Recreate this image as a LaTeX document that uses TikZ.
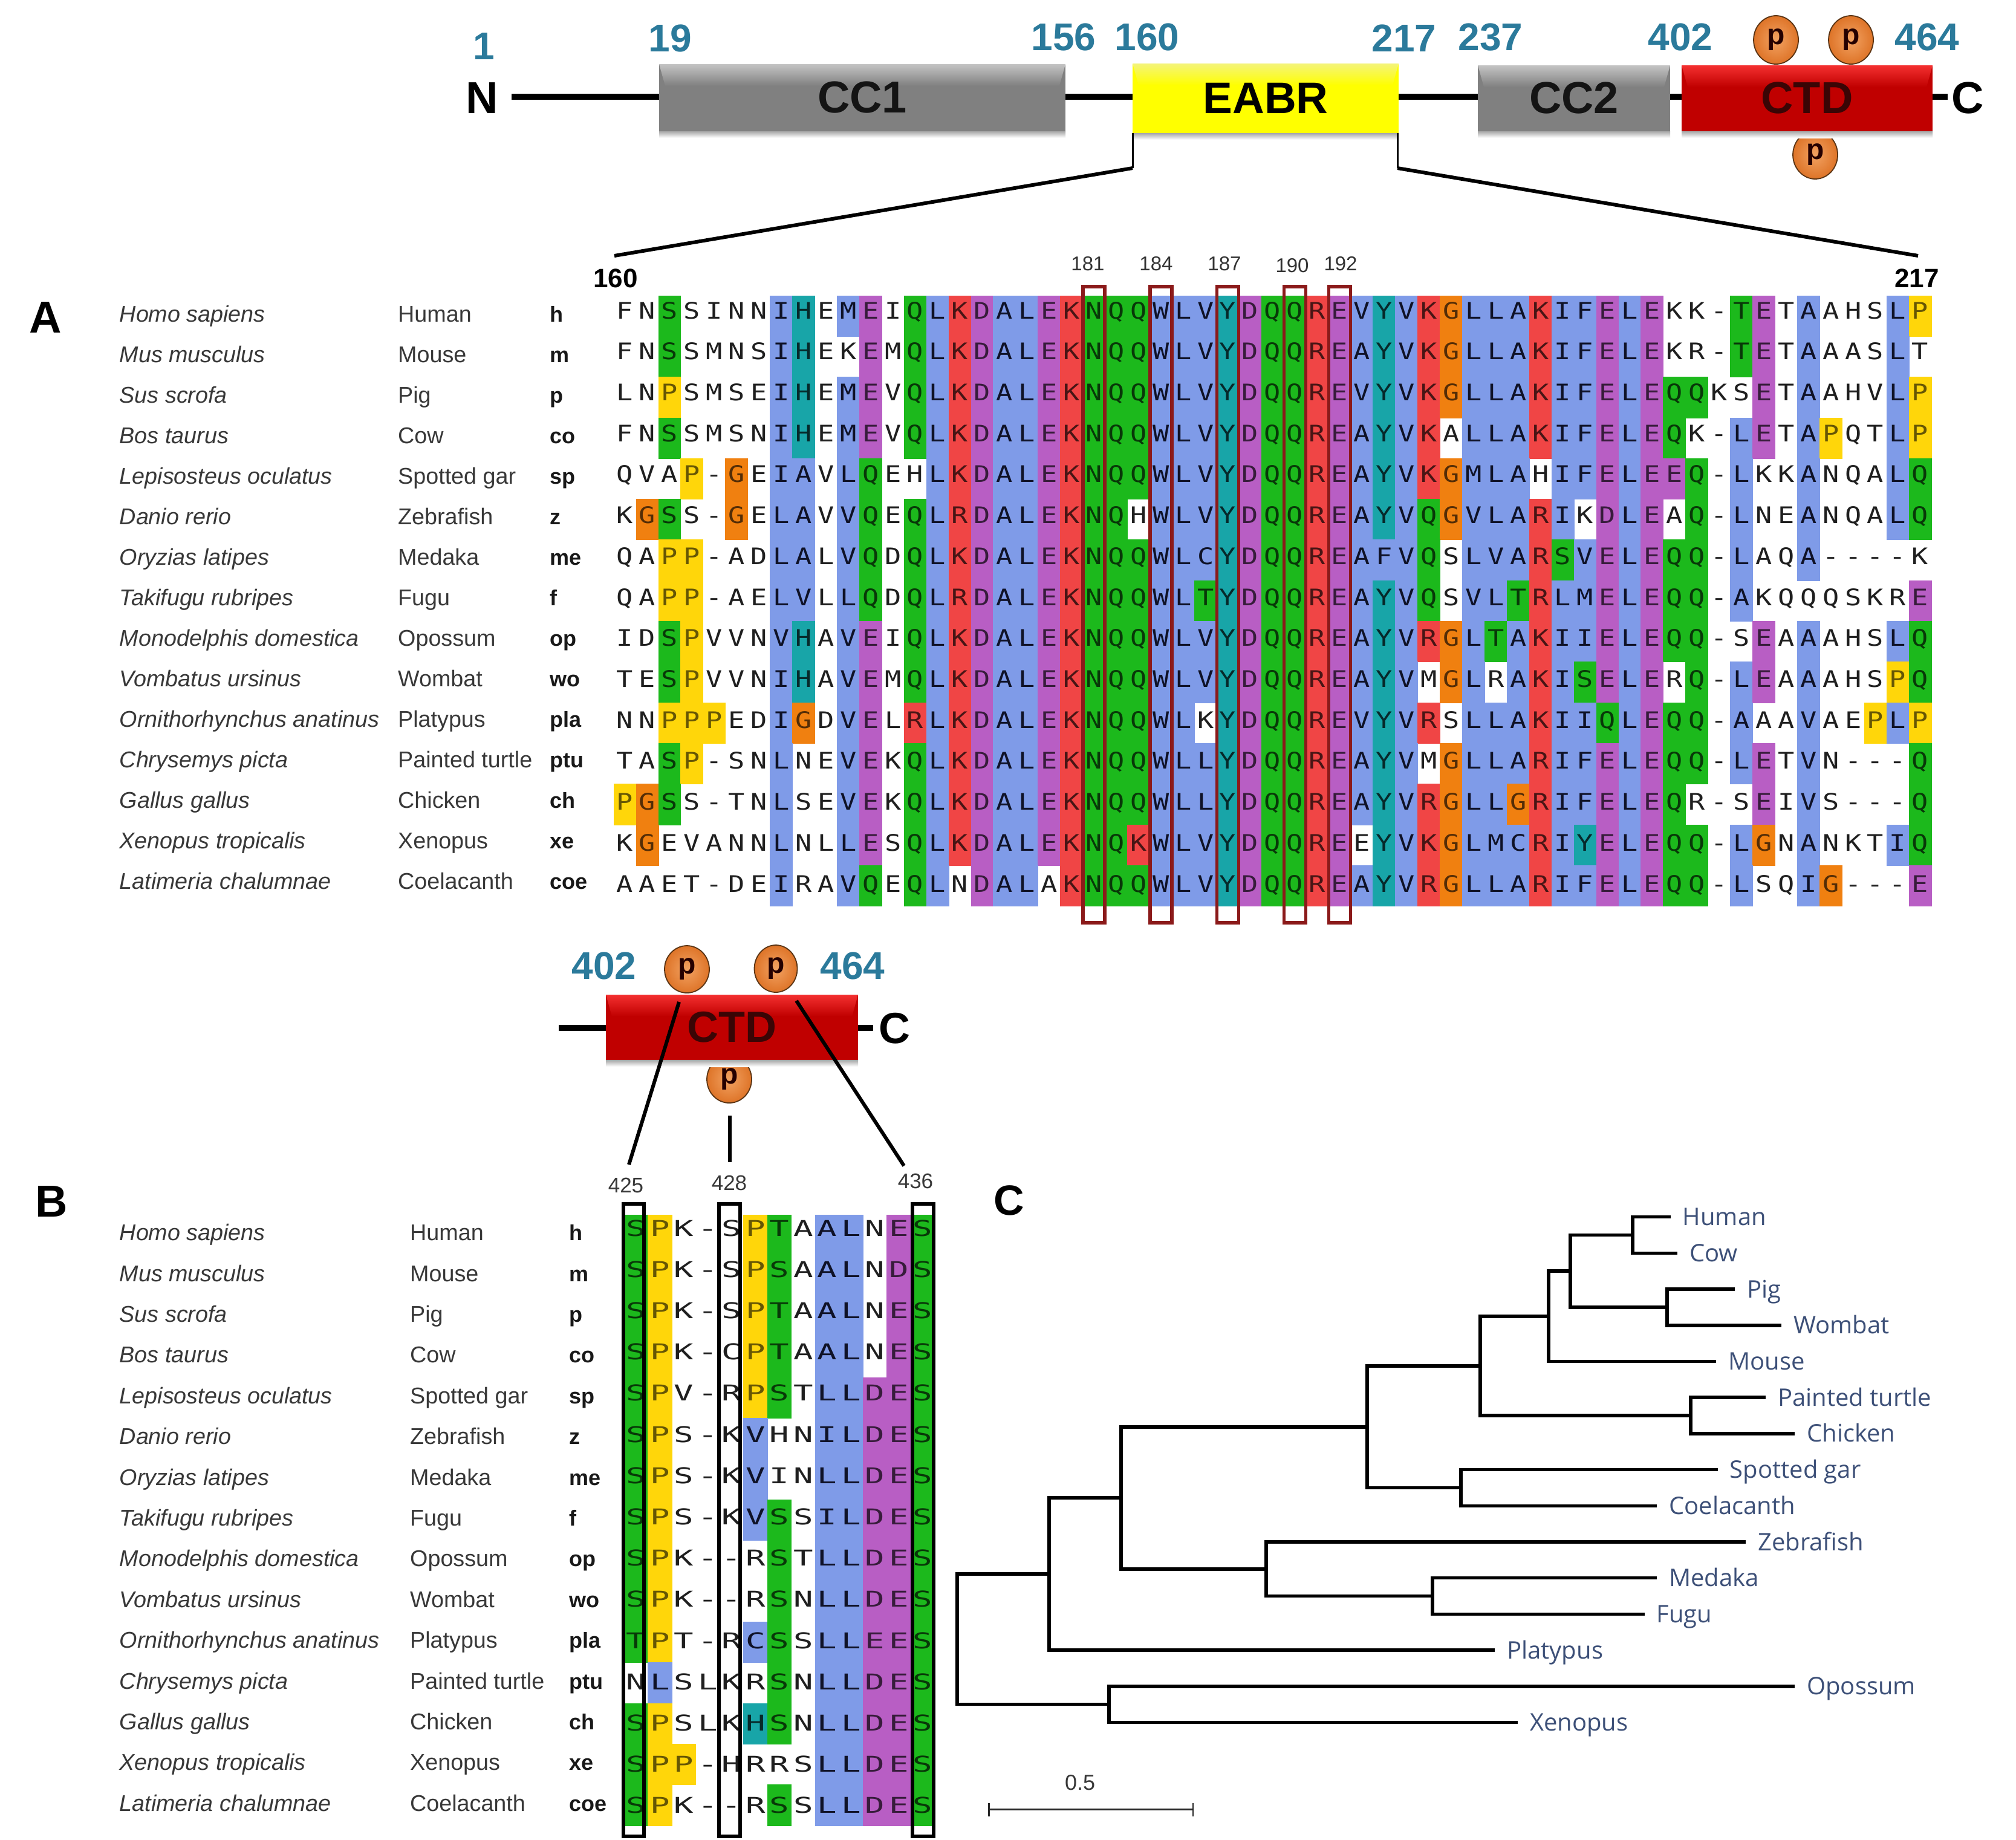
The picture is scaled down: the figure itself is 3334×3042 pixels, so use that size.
\documentclass[tikz,border=0pt]{standalone}
\usepackage{fontspec}
\setmainfont{Liberation Sans}
\newfontfamily\alnAfam[FakeStretch=1.2]{DejaVu Sans Mono}
\newfontfamily\alnBfam[FakeStretch=1.5]{DejaVu Sans Mono}
\newfontfamily\treefam{Open Sans}
\usetikzlibrary{shapes.geometric,shadings,arrows.meta}
\newcommand\fs[1]{\fontsize{#1}{#1}\selectfont}
\definecolor{alnb}{HTML}{7F9BE8}
\definecolor{alng}{HTML}{1CB91C}
\definecolor{alnr}{HTML}{F04545}
\definecolor{alnm}{HTML}{B85EC4}
\definecolor{alnk}{HTML}{18A5A8}
\definecolor{alny}{HTML}{FFD60A}
\definecolor{alno}{HTML}{F08010}
\definecolor{teallab}{HTML}{2B7A9B}
\definecolor{treelabcol}{HTML}{3D5078}
\definecolor{boxred}{HTML}{8B1A1A}
\definecolor{grayb}{HTML}{808080}
\definecolor{grayl}{HTML}{C4C4C4}
\definecolor{yelb}{HTML}{FFFF00}
\definecolor{yell}{HTML}{F4F47A}
\definecolor{redb}{HTML}{C00000}
\definecolor{redl}{HTML}{F43030}
\definecolor{phin}{HTML}{F2A262}
\definecolor{phout}{HTML}{DE7428}
\definecolor{phedge}{HTML}{5A3414}
\definecolor{ctdtext}{HTML}{3A0505}
\tikzset{
  alncell/.style={inner sep=0pt,outer sep=0pt,anchor=center},
  alnc./.style={text=black!88},
  alncb/.style={fill=alnb,draw=alnb,line width=.7pt,text=alnb!12!black!95!blue},
  alncg/.style={fill=alng,draw=alng,line width=.7pt,text=alng!30!black},
  alncr/.style={fill=alnr,draw=alnr,line width=.7pt,text=alnr!30!black},
  alncm/.style={fill=alnm,draw=alnm,line width=.7pt,text=alnm!30!black},
  alnck/.style={fill=alnk,draw=alnk,line width=.7pt,text=alnk!25!black},
  alncy/.style={fill=alny,draw=alny,line width=.7pt,text=alny!40!black},
  alnco/.style={fill=alno,draw=alno,line width=.7pt,text=alno!35!black},
  numtop/.style={anchor=base,inner sep=0pt,text=teallab,font=\fs{64}\bfseries},
  numsmall/.style={anchor=base,inner sep=0pt,text=black!80,font=\fs{33}},
  numlow/.style={anchor=base,inner sep=0pt,text=black!78,font=\fs{35}},
  numbold/.style={anchor=base,inner sep=0pt,font=\fs{44}\bfseries},
  panelmark/.style={anchor=base west,inner sep=0pt,font=\fs{74}\bfseries},
  termmark/.style={anchor=base,inner sep=0pt,font=\fs{74}\bfseries},
  phos/.style={ellipse,draw=phedge,line width=1.8pt,inner sep=0pt,outer sep=0pt,
    inner color=phin,outer color=phout,
    minimum width=74pt,minimum height=80pt,text=black!85!red,font=\fs{48}\bfseries},
  domainlab/.style={inner sep=0pt,outer sep=0pt,rectangle},
  backbone/.style={line width=10pt,black},
  thinlink/.style={line width=3pt,black},
  thicklink/.style={line width=6pt,black},
  sitebox/.style={rectangle,draw=boxred,line width=5.5pt,inner sep=0pt,outer sep=0pt},
  blackbox/.style={rectangle,draw=black,line width=6pt,inner sep=0pt,outer sep=0pt},
  spname/.style={anchor=base west,inner sep=0pt,text=black!78,font=\fs{37.7}\itshape},
  comname/.style={anchor=base west,inner sep=0pt,text=black!78,font=\fs{37.7}},
  abbr/.style={anchor=base west,inner sep=0pt,text=black!90,font=\fs{36}\bfseries},
  treeline/.style={line width=5.5pt,black,line join=miter},
  treelab/.style={anchor=base west,inner sep=0pt,text=treelabcol,font=\treefam\fs{40},xshift=20pt,yshift=-14pt},
  scalebar/.style={line width=2.5pt,black!85,{Bar[width=22pt]}-{Bar[width=22pt]}},
}
\newcount\cidx
\def\alnscan#1#2\relax#3#4\relax{%
  \edef\ci{\number\cidx}%
  \pgfmathsetmacro\cellx{\alnxz+(\ci+.5)*\alncw}%
  \node[alncell,alnc#3,text height=\tht pt,text depth=\tdp pt,minimum width=\alncw pt,font=\alnfont]
     (\alnprefix-\ci) at (\cellx,\rowcy) {#1};%
  \global\advance\cidx by 1
  \ifx\relax#2\relax\else\alnscan#2\relax#4\relax\fi}
\newcommand{\alnrow}[4]{%
  \pgfmathsetmacro\rowcy{\alnyz+(#2+.5)*\alnch}%
  \pgfmathsetmacro\tht{\alnbase+#2*\alnbstep}%
  \pgfmathsetmacro\tdp{\alnch-\tht}%
  \def\alnprefix{#1-#2}%
  \global\cidx=0
  \alnscan#3\relax#4\relax}
% name, x1, y1, x2, y2, base, light, label, label font
\newcommand{\domainbox}[9]{%
  \shade[top color=black!35,bottom color=white] (#2,#5) rectangle (#4,{#5+11});
  \fill[#6] (#2,#3) rectangle (#4,#5);
  \shade[top color=#7,bottom color=#6] (#2,#3) -- (#4,#3) -- ({#4-10},{#3+36}) -- ({#2+10},{#3+36}) -- cycle;
  \node[domainlab,minimum width={#4-#2},minimum height={#5-#3},font=#9] (#1) at ({(#2+#4)/2},{(#3+#5)/2}) {#8};
}
\def\specieslist{Homo sapiens/Human/h,Mus musculus/Mouse/m,Sus scrofa/Pig/p,Bos taurus/Cow/co,
 Lepisosteus oculatus/Spotted gar/sp,Danio rerio/Zebrafish/z,Oryzias latipes/Medaka/me,
 Takifugu rubripes/Fugu/f,Monodelphis domestica/Opossum/op,Vombatus ursinus/Wombat/wo,
 Ornithorhynchus anatinus/Platypus/pla,Chrysemys picta/Painted turtle/ptu,Gallus gallus/Chicken/ch,
 Xenopus tropicalis/Xenopus/xe,Latimeria chalumnae/Coelacanth/coe}
\begin{document}
\begin{tikzpicture}[x=1pt,y=-1pt]
\useasboundingbox (0,0) rectangle (3334,3042);
\fill[white] (0,0) rectangle (3334,3042);

%% ---------- top domain bar ----------
\node[phos] (ptopa) at (2937,66) {p};
\node[phos] (ptopb) at (3061,66) {p};
\node[phos] (ptopc) at (3002,256) {p};
\domainbox{cc1}{1090}{106}{1762}{217}{grayb}{grayl}{CC1}{\fs{74}\bfseries\color{black!92}}
\domainbox{eabr}{1873}{105}{2313}{220}{yelb}{yell}{EABR}{\fs{73}\bfseries}
\domainbox{cc2}{2444}{108}{2762}{217}{grayb}{grayl}{CC2}{\fs{74}\bfseries\color{black!92}}
\domainbox{ctd}{2781}{108}{3196}{217}{redb}{redl}{CTD}{\fs{74}\bfseries\color{ctdtext}}
\coordinate (ybb) at (0,160);
\coordinate (nline) at (846,160);
\coordinate (cline) at (3221,160);
\draw[backbone] (nline) -- (cc1.west |- ybb);
\draw[backbone] (cc1.east |- ybb) -- (eabr.west |- ybb);
\draw[backbone] (eabr.east |- ybb) -- (cc2.west |- ybb);
\draw[backbone] (cc2.east |- ybb) -- (ctd.west |- ybb);
\draw[backbone] (ctd.east |- ybb) -- (cline);
\node[termmark] (nterm) at (797,187) {N};
\node[termmark] (cterm) at (3254,187) {C};
\node[numtop] (la1) at (800,98) {1};
\node[numtop] (la19) at (1108,85) {19};
\node[numtop] (la156) at (1759,83) {156};
\node[numtop] (la160) at (1897,83) {160};
\node[numtop] (la217) at (2322,85) {217};
\node[numtop] (la237) at (2465,83) {237};
\node[numtop] (la402) at (2779,83) {402};
\node[numtop] (la464) at (3187,83) {464};

%% zoom lines
\coordinate (zlk) at (1873,278);
\coordinate (zrk) at (2311,278);
\coordinate (zla) at (1016,423);
\coordinate (zra) at (3172,423);
\draw[thinlink] (eabr.south west) -- (zlk);
\draw[thinlink] (eabr.south east) ++(-2,0) -- (zrk);
\draw[thicklink] (zlk) -- (zla);
\draw[thicklink] (zrk) -- (zra);

%% ---------- panel A ----------
\node[panelmark] (markA) at (48,550) {A};
\node[numbold] (a160) at (1018,475) {160};
\node[numbold] (a217) at (3170,475) {217};
\node[numsmall] (s181) at (1799,447) {181};
\node[numsmall] (s184) at (1912,447) {184};
\node[numsmall] (s187) at (2025,447) {187};
\node[numsmall] (s190) at (2137,450) {190};
\node[numsmall] (s192) at (2217,447) {192};
\foreach \sp/\com/\ab [count=\i from 0] in \specieslist {
  \pgfmathsetmacro\by{532.6+67*\i}
  \node[spname] (A-sp-\i) at (197.6,\by) {\sp};
  \node[comname] (A-com-\i) at (658,\by) {\com};
  \node[abbr] (A-ab-\i) at (909,\by) {\ab};
}
\def\alnxz{1015}\def\alncw{36.93}\def\alnyz{489}\def\alnch{67.3}\def\alnbase{38}\def\alnbstep{0.42}
\def\alnfont{\alnAfam\fs{37.7}}
\alnrow{A}{0}{FNSSINNIHEMEIQLKDALEKNQQWLVYDQQREVYVKGLLAKIFELEKK-TETAAHSLP}{..g....bk.bm.gbrmbbmrgggbbbkmggrmbkbrobbbrbbmbm...gm.b...by}
\alnrow{A}{1}{FNSSMNSIHEKEMQLKDALEKNQQWLVYDQQREAYVKGLLAKIFELEKR-TETAAASLT}{..g....bk..m.gbrmbbmrgggbbbkmggrmbkbrobbbrbbmbm...gm.b...b.}
\alnrow{A}{2}{LNPSMSEIHEMEVQLKDALEKNQQWLVYDQQREVYVKGLLAKIFELEQQKSETAAHVLP}{..y....bk.bm.gbrmbbmrgggbbbkmggrmbkbrobbbrbbmbmgg..m.b...by}
\alnrow{A}{3}{FNSSMSNIHEMEVQLKDALEKNQQWLVYDQQREAYVKALLAKIFELEQK-LETAPQTLP}{..g....bk.bm.gbrmbbmrgggbbbkmggrmbkbr.bbbrbbmbmg..bm.by..by}
\alnrow{A}{4}{QVAP-GEIAVLQEHLKDALEKNQQWLVYDQQREAYVKGMLAHIFELEEQ-LKKANQALQ}{...y.o.bb.bg..brmbbmrgggbbbkmggrmbkbrobbb.bbmbmmg.b..b...bg}
\alnrow{A}{5}{KGSS-GELAVVQEQLRDALEKNQHWLVYDQQREAYVQGVLARIKDLEAQ-LNEANQALQ}{.og..o.bb.bg.gbrmbbmrgg.bbbkmggrmbkbgobbbrb.mbm.g.b..b...bg}
\alnrow{A}{6}{QAPP-ADLALVQDQLKDALEKNQQWLCYDQQREAFVQSLVARSVELEQQ-LAQA----K}{..yy...bb.bg.gbrmbbmrgggbbbkmggrmbbbg.bbbrgbmbmgg.b..b.....}
\alnrow{A}{7}{QAPP-AELVLLQDQLRDALEKNQQWLTYDQQREAYVQSVLTRLMELEQQ-AKQQQSKRE}{..yy...bb.bg.gbrmbbmrgggbbgkmggrmbkbg.bbgrbbmbmgg.b.......m}
\alnrow{A}{8}{IDSPVVNVHAVEIQLKDALEKNQQWLVYDQQREAYVRGLTAKIIELEQQ-SEAAAHSLQ}{..gy...bk.bm.gbrmbbmrgggbbbkmggrmbkbrobgbrbbmbmgg..m.b...bg}
\alnrow{A}{9}{TESPVVNIHAVEMQLKDALEKNQQWLVYDQQREAYVMGLRAKISELERQ-LEAAAHSPQ}{..gy...bk.bm.gbrmbbmrgggbbbkmggrmbkb.ob.brbgmbm.g.bm.b...yg}
\alnrow{A}{10}{NNPPPEDIGDVELRLKDALEKNQQWLKYDQQREVYVRSLLAKIIQLEQQ-AAAVAEPLP}{..yyy..bo.bm.rbrmbbmrgggbb.kmggrmbkbr.bbbrbbgbmgg.b..b..yby}
\alnrow{A}{11}{TASP-SNLNEVEKQLKDALEKNQQWLLYDQQREAYVMGLLARIFELEQQ-LETVN---Q}{..gy...b..bm.gbrmbbmrgggbbbkmggrmbkb.obbbrbbmbmgg.bm.b....g}
\alnrow{A}{12}{PGSS-TNLSEVEKQLKDALEKNQQWLLYDQQREAYVRGLLGRIFELEQR-SEIVS---Q}{yog....b..bm.gbrmbbmrgggbbbkmggrmbkbrobborbbmbmg...m.b....g}
\alnrow{A}{13}{KGEVANNLNLLESQLKDALEKNQKWLVYDQQREEYVKGLMCRIYELEQQ-LGNANKTIQ}{.o.....b..bm.gbrmbbmrggrbbbkmggrm.kbrobbbrbkmbmgg.bo.b...bg}
\alnrow{A}{14}{AAET-DEIRAVQEQLNDALAKNQQWLVYDQQREAYVRGLLARIFELEQQ-LSQIG---E}{.......b..bg.gb.mbb.rgggbbbkmggrmbkbrobbbrbbmbmgg.b..bo...m}
\foreach \c/\n in {21/181,24/184,27/187,30/190,32/192} {
  \pgfmathsetmacro\bx{1015+36.93*\c+18.5}
  \node[sitebox,minimum width=36pt,minimum height=1052pt] (site\n) at (\bx,1000) {};
}

%% ---------- CTD close-up ----------
\node[phos,minimum height=78pt] (pma) at (1136,1603) {p};
\node[phos,minimum width=71pt,minimum height=78pt] (pmb) at (1283,1602) {p};
\node[phos,minimum height=78pt] (pmc) at (1206,1785) {p};
\domainbox{ctdb}{1002}{1645}{1419}{1753}{redb}{redl}{CTD}{\fs{72}\bfseries\color{ctdtext}}
\coordinate (yc) at (0,1700);
\coordinate (lineb) at (924,1700);
\coordinate (linec) at (1444,1700);
\draw[backbone] (lineb) -- (ctdb.west |- yc);
\draw[backbone] (ctdb.east |- yc) -- (linec);
\node[termmark,font=\fs{72}\bfseries] (ctermb) at (1479,1725) {C};
\node[numtop] (lb402) at (999,1619) {402};
\node[numtop] (lb464) at (1410,1619) {464};
\coordinate (lka) at (1123,1657);
\coordinate (lkb) at (1040,1926);
\coordinate (lkc) at (1207,1845);
\coordinate (lkd) at (1207,1922);
\coordinate (lke) at (1317,1655);
\coordinate (lkf) at (1495,1928);
\draw[thicklink] (lka) -- (lkb);
\draw[thicklink] (lkc) -- (lkd);
\draw[thicklink] (lke) -- (lkf);
\node[numlow] (s425) at (1035,1972) {425};
\node[numlow] (s428) at (1206,1968) {428};
\node[numlow] (s436) at (1514,1965) {436};

%% ---------- panel B ----------
\node[panelmark] (markB) at (58,2012) {B};
\foreach \sp/\com/\ab [count=\i from 0] in \specieslist {
  \pgfmathsetmacro\by{2051.6+67.4*\i}
  \node[spname] (B-sp-\i) at (197.6,\by) {\sp};
  \node[comname] (B-com-\i) at (678,\by) {\com};
  \node[abbr] (B-ab-\i) at (941,\by) {\ab};
}
\def\alnxz{1032}\def\alncw{39.5}\def\alnyz{2009}\def\alnch{67.33}\def\alnbase{35}\def\alnbstep{0.87}
\def\alnfont{\alnBfam\fs{36}}
\alnrow{B}{0}{SPK-SPTAALNES}{gy...yg.bb.mg}
\alnrow{B}{1}{SPK-SPSAALNDS}{gy...yg.bb.mg}
\alnrow{B}{2}{SPK-SPTAALNES}{gy...yg.bb.mg}
\alnrow{B}{3}{SPK-CPTAALNES}{gy...yg.bb.mg}
\alnrow{B}{4}{SPV-RPSTLLDES}{gy...yg.bbmmg}
\alnrow{B}{5}{SPS-KVHNILDES}{gy...b..bbmmg}
\alnrow{B}{6}{SPS-KVINLLDES}{gy...b..bbmmg}
\alnrow{B}{7}{SPS-KVSSILDES}{gy...bg.bbmmg}
\alnrow{B}{8}{SPK--RSTLLDES}{gy....g.bbmmg}
\alnrow{B}{9}{SPK--RSNLLDES}{gy....g.bbmmg}
\alnrow{B}{10}{TPT-RCSSLLEES}{gy...bg.bbmmg}
\alnrow{B}{11}{NLSLKRSNLLDES}{.b....g.bbmmg}
\alnrow{B}{12}{SPSLKHSNLLDES}{gy...kg.bbmmg}
\alnrow{B}{13}{SPP-HRRSLLDES}{gyy.....bbmmg}
\alnrow{B}{14}{SPK--RSSLLDES}{gy....g.bbmmg}
\node[blackbox,minimum width=34pt,minimum height=1046pt] (boxa) at (1048,2514) {};
\node[blackbox,minimum width=35pt,minimum height=1046pt] (boxb) at (1206.5,2514) {};
\node[blackbox,minimum width=35pt,minimum height=1046pt] (boxc) at (1526.5,2514) {};

%% ---------- panel C ----------
\node[panelmark,font=\fs{70}\bfseries] (markC) at (1643,2009) {C};
\coordinate (tHuman) at (2762.5,2012.7);
\coordinate (tCow) at (2774,2072.4);
\coordinate (tPig) at (2869,2132.1);
\coordinate (tWombat) at (2946,2191.8);
\coordinate (tMouse) at (2838,2251.5);
\coordinate (tPainted) at (2920,2311.2);
\coordinate (tChicken) at (2968,2370.9);
\coordinate (tSpotted) at (2840.5,2430.6);
\coordinate (tCoela) at (2740,2490.3);
\coordinate (tZebra) at (2887,2550);
\coordinate (tMedaka) at (2740,2609.7);
\coordinate (tFugu) at (2719.5,2669.4);
\coordinate (tPlaty) at (2472,2729);
\coordinate (tOpossum) at (2968,2788.8);
\coordinate (tXenopus) at (2510,2848.5);
\coordinate (nHC) at (2700,2042.5);
\coordinate (nPW) at (2757,2162);
\coordinate (nHP) at (2597,2102);
\coordinate (nHM) at (2561,2177);
\coordinate (nPC) at (2796,2341);
\coordinate (nMam) at (2448,2259);
\coordinate (nSC) at (2416,2460.5);
\coordinate (nTet) at (2261,2360);
\coordinate (nMF) at (2369,2639.5);
\coordinate (nZ) at (2094,2595);
\coordinate (nBig) at (1854,2477);
\coordinate (nPl) at (1735,2603);
\coordinate (nOX) at (1834,2818.6);
\coordinate (nRoot) at (1583,2711);
\draw[treeline] (tHuman) -| (nHC) |- (tCow);
\draw[treeline] (tPig) -| (nPW) |- (tWombat);
\draw[treeline] (nHC) -| (nHP) |- (nPW);
\draw[treeline] (nHP) -| (nHM) |- (tMouse);
\draw[treeline] (tPainted) -| (nPC) |- (tChicken);
\draw[treeline] (nHM) -| (nMam) |- (nPC);
\draw[treeline] (tSpotted) -| (nSC) |- (tCoela);
\draw[treeline] (nMam) -| (nTet) |- (nSC);
\draw[treeline] (tMedaka) -| (nMF) |- (tFugu);
\draw[treeline] (tZebra) -| (nZ) |- (nMF);
\draw[treeline] (nTet) -| (nBig) |- (nZ);
\draw[treeline] (nBig) -| (nPl) |- (tPlaty);
\draw[treeline] (tOpossum) -| (nOX) |- (tXenopus);
\draw[treeline] (nPl) -| (nRoot) |- (nOX);
\node[treelab] (lHuman) at (tHuman) {Human};
\node[treelab] (lCow) at (tCow) {Cow};
\node[treelab] (lPig) at (tPig) {Pig};
\node[treelab] (lWombat) at (tWombat) {Wombat};
\node[treelab] (lMouse) at (tMouse) {Mouse};
\node[treelab] (lPainted) at (tPainted) {Painted turtle};
\node[treelab] (lChicken) at (tChicken) {Chicken};
\node[treelab] (lSpotted) at (tSpotted) {Spotted gar};
\node[treelab] (lCoela) at (tCoela) {Coelacanth};
\node[treelab] (lZebra) at (tZebra) {Zebrafish};
\node[treelab] (lMedaka) at (tMedaka) {Medaka};
\node[treelab] (lFugu) at (tFugu) {Fugu};
\node[treelab] (lPlaty) at (tPlaty) {Platypus};
\node[treelab] (lOpossum) at (tOpossum) {Opossum};
\node[treelab] (lXenopus) at (tXenopus) {Xenopus};
\coordinate (sbL) at (1634,2992.5);
\coordinate (sbR) at (1974,2992.5);
\draw[scalebar] (sbL) -- (sbR);
\node[anchor=base,inner sep=0pt,text=black!78,font=\fs{36}] (sblab) at (1786,2960) {0.5};
\end{tikzpicture}
\end{document}
